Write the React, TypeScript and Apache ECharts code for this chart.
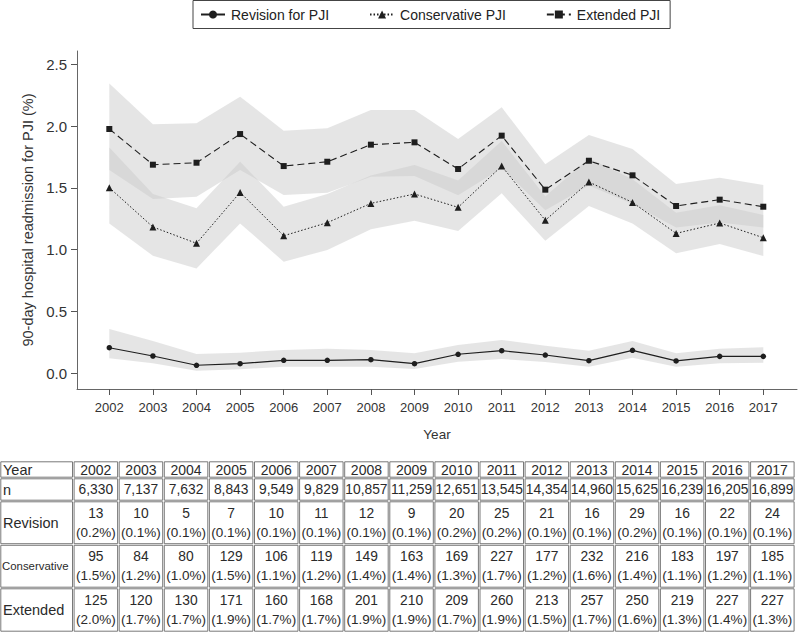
import React, { useEffect, useRef } from "react";
import * as echarts from "echarts";

const years = [2002, 2003, 2004, 2005, 2006, 2007, 2008, 2009, 2010, 2011, 2012, 2013, 2014, 2015, 2016, 2017];

const revision = [0.207, 0.140, 0.065, 0.078, 0.105, 0.105, 0.110, 0.078, 0.154, 0.183, 0.148, 0.102, 0.186, 0.100, 0.137, 0.137];
const revisionUpper = [0.358, 0.261, 0.156, 0.167, 0.188, 0.199, 0.188, 0.162, 0.229, 0.27, 0.223, 0.183, 0.261, 0.162, 0.199, 0.21];
const revisionLower = [0.121, 0.081, 0.021, 0.032, 0.054, 0.054, 0.054, 0.035, 0.094, 0.116, 0.091, 0.054, 0.126, 0.054, 0.081, 0.086];

const conservative = [1.502, 1.184, 1.052, 1.464, 1.113, 1.219, 1.375, 1.451, 1.343, 1.677, 1.238, 1.548, 1.383, 1.132, 1.216, 1.097];
const conservativeUpper = [1.828, 1.45, 1.335, 1.712, 1.348, 1.45, 1.60, 1.685, 1.56, 1.88, 1.43, 1.74, 1.57, 1.30, 1.36, 1.28];
const conservativeLower = [1.213, 0.952, 0.849, 1.213, 0.903, 0.998, 1.165, 1.235, 1.151, 1.456, 1.073, 1.354, 1.213, 0.971, 1.046, 0.949];

const extended = [1.977, 1.688, 1.704, 1.936, 1.677, 1.712, 1.850, 1.869, 1.653, 1.923, 1.486, 1.720, 1.602, 1.354, 1.405, 1.348];
const extendedUpper = [2.346, 2.015, 2.023, 2.238, 1.963, 1.982, 2.13, 2.13, 1.895, 2.152, 1.691, 1.928, 1.815, 1.532, 1.583, 1.523];
const extendedLower = [1.645, 1.41, 1.429, 1.645, 1.443, 1.46, 1.59, 1.596, 1.44, 1.66, 1.32, 1.52, 1.37, 1.18, 1.22, 1.18];

const yTicks = [0, 0.5, 1.0, 1.5, 2.0, 2.5];

// table
const nTotal = ["6,330", "7,137", "7,632", "8,843", "9,549", "9,829", "10,857", "11,259", "12,651", "13,545", "14,354", "14,960", "15,625", "16,239", "16,205", "16,899"];
const revCount = ["13", "10", "5", "7", "10", "11", "12", "9", "20", "25", "21", "16", "29", "16", "22", "24"];
const revPct = ["0.2%", "0.1%", "0.1%", "0.1%", "0.1%", "0.1%", "0.1%", "0.1%", "0.2%", "0.2%", "0.1%", "0.1%", "0.2%", "0.1%", "0.1%", "0.1%"];
const consCount = ["95", "84", "80", "129", "106", "119", "149", "163", "169", "227", "177", "232", "216", "183", "197", "185"];
const consPct = ["1.5%", "1.2%", "1.0%", "1.5%", "1.1%", "1.2%", "1.4%", "1.4%", "1.3%", "1.7%", "1.2%", "1.6%", "1.4%", "1.1%", "1.2%", "1.1%"];
const extCount = ["125", "120", "130", "171", "160", "168", "201", "210", "209", "260", "213", "257", "250", "219", "227", "227"];
const extPct = ["2.0%", "1.7%", "1.7%", "1.9%", "1.7%", "1.7%", "1.9%", "1.9%", "1.7%", "1.9%", "1.5%", "1.7%", "1.6%", "1.3%", "1.4%", "1.3%"];

const FONT = "'Liberation Sans', Arial, Helvetica, sans-serif";

function pairs(v: number[]) {
  return years.map((y, i) => [y, v[i]]);
}

function bandSeries(id: string, lower: number[], upper: number[]) {
  const data = years.map((y, i) => [y, lower[i], upper[i]]);
  return {
    type: "custom",
    name: id + "-band",
    silent: true,
    z: 1,
    encode: { x: 0, y: [1, 2] },
    data,
    renderItem: (params: any, api: any) => {
      if (params.dataIndex !== 0) return null;
      const pts: number[][] = [];
      for (let i = 0; i < data.length; i++) pts.push(api.coord([data[i][0], data[i][2]]));
      for (let i = data.length - 1; i >= 0; i--) pts.push(api.coord([data[i][0], data[i][1]]));
      return {
        type: "polygon",
        shape: { points: pts },
        style: { fill: "#cbcbcb", opacity: 0.5, stroke: "none" },
      };
    },
  };
}

function buildTable() {
  const els: any[] = [];
  const rowsY = [461, 478, 501, 544.5, 588, 632];
  const firstW = 73.3;
  const colW = 45.1;
  const colX = (i: number) => firstW + colW * i;
  const txt = (text: string, x: number, y: number, size: number, align = "center") => ({
    type: "text",
    silent: true,
    style: {
      text,
      x,
      y,
      fill: "#2a2a2a",
      font: `${size}px ${FONT}`,
      fontSize: size,
      fontFamily: FONT,
      align,
      verticalAlign: "middle",
      textAlign: align,
      textVerticalAlign: "middle",
    },
  });
  const cell = (x: number, y: number, w: number, h: number) => ({
    type: "rect",
    silent: true,
    shape: { x: x + 0.8, y: y + 0.8, width: w - 1.6, height: h - 1.6 },
    style: { fill: "none", stroke: "#6a6a6a", lineWidth: 0.9 },
  });
  for (let r = 0; r < 5; r++) {
    const y0 = rowsY[r];
    const h = rowsY[r + 1] - y0;
    els.push(cell(0, y0, firstW, h));
    for (let c = 0; c < 16; c++) els.push(cell(colX(c), y0, colW, h));
  }
  const mid = (r: number) => (rowsY[r] + rowsY[r + 1]) / 2;
  els.push(txt("Year", 3, mid(0), 14.5, "left"));
  els.push(txt("n", 3, mid(1), 14.5, "left"));
  els.push(txt("Revision", 3, mid(2), 14.5, "left"));
  els.push(txt("Conservative", 2, mid(3), 11.4, "left"));
  els.push(txt("Extended", 3, mid(4), 14.5, "left"));
  const two = [
    [revCount, revPct],
    [consCount, consPct],
    [extCount, extPct],
  ];
  for (let c = 0; c < 16; c++) {
    const cx = colX(c) + colW / 2;
    els.push(txt(String(years[c]), cx, mid(0), 14));
    els.push(txt(nTotal[c], cx, mid(1), 13.8));
    two.forEach((pair, k) => {
      const m = mid(2 + k);
      els.push(txt(pair[0][c], cx, m - 9.5, 13.8));
      els.push(txt("(" + pair[1][c] + ")", cx, m + 9.5, 13.5));
    });
  }
  return els;
}

export default function App() {
  const ref = useRef<HTMLDivElement>(null);
  useEffect(() => {
    document.body.style.margin = "0";
    if (!ref.current) return;
    const chart = echarts.init(ref.current, undefined, { renderer: "svg" });
    const lineColor = "#1e1e1e";
    const option: any = {
      animation: false,
      backgroundColor: "#ffffff",
      textStyle: { fontFamily: FONT },
      legend: {
        data: ["Revision for PJI", "Conservative PJI", "Extended PJI"],
        left: 193,
        top: 0.5,
        padding: [7, 10, 7, 7],
        itemWidth: 24,
        itemHeight: 10,
        itemGap: 40,
        borderColor: "#444",
        borderWidth: 1,
        textStyle: { fontSize: 14, color: "#222", fontFamily: FONT, padding: [0, 0, 0, 1] },
        selectedMode: false,
      },
      grid: { left: 77, top: 51, width: 720, height: 338, containLabel: false },
      xAxis: {
        type: "value",
        min: 2001.259,
        max: 2017.773,
        name: "Year",
        nameLocation: "middle",
        nameGap: 38,
        nameTextStyle: { fontSize: 13.5, color: "#333", fontFamily: FONT },
        axisLine: { show: true, onZero: false, lineStyle: { color: "#666", width: 1 } },
        axisTick: { show: true, customValues: years, length: 6, lineStyle: { color: "#555" } },
        axisLabel: {
          customValues: years,
          formatter: (v: number) => String(v),
          fontSize: 13,
          color: "#333",
          margin: 12,
          fontFamily: FONT,
        },
        splitLine: { show: false },
      },
      yAxis: {
        type: "value",
        min: -0.127,
        max: 2.608,
        name: "90-day hospital readmission for PJI (%)",
        nameLocation: "middle",
        nameGap: 37,
        nameTextStyle: { fontSize: 14.5, color: "#333", fontFamily: FONT },
        axisLine: { show: true, onZero: false, lineStyle: { color: "#666", width: 1 } },
        axisTick: { show: true, customValues: yTicks, length: 6, lineStyle: { color: "#555" } },
        axisLabel: {
          customValues: yTicks,
          formatter: (v: number) => v.toFixed(1),
          fontSize: 15,
          color: "#333",
          margin: 10,
          fontFamily: FONT,
        },
        splitLine: { show: false },
      },
      series: [
        bandSeries("ext", extendedLower, extendedUpper),
        bandSeries("cons", conservativeLower, conservativeUpper),
        bandSeries("rev", revisionLower, revisionUpper),
        {
          type: "line",
          name: "Revision for PJI",
          data: pairs(revision),
          symbol: "circle",
          symbolSize: 5.5,
          itemStyle: { color: lineColor },
          lineStyle: { color: lineColor, width: 1.2, type: "solid" },
          z: 5,
        },
        {
          type: "line",
          name: "Conservative PJI",
          data: pairs(conservative),
          symbol: "triangle",
          symbolSize: 7,
          itemStyle: { color: lineColor },
          lineStyle: { color: lineColor, width: 1, type: [1.5, 2] },
          z: 5,
        },
        {
          type: "line",
          name: "Extended PJI",
          data: pairs(extended),
          symbol: "rect",
          symbolSize: 6,
          itemStyle: { color: lineColor },
          lineStyle: { color: lineColor, width: 1.1, type: [7, 4] },
          z: 5,
        },
      ],
      graphic: buildTable(),
    };
    chart.setOption(option);
    return () => chart.dispose();
  }, []);
  return <div ref={ref} style={{ width: 798, height: 633 }} />;
}
